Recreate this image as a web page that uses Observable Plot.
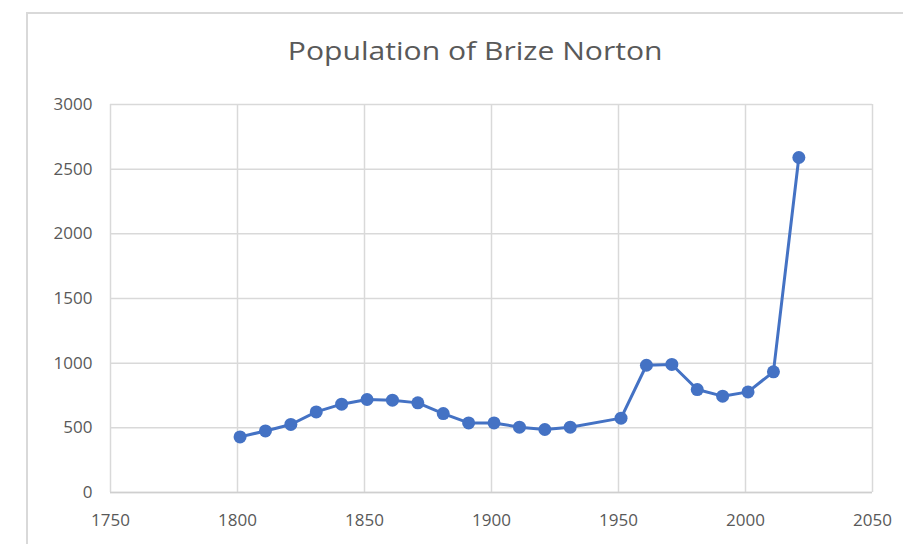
<!DOCTYPE html>
<html>
<head>
<meta charset="utf-8">
<script src="https://cdn.jsdelivr.net/npm/d3@7"></script>
<script src="https://cdn.jsdelivr.net/npm/@observablehq/plot@0.6"></script>
<style>
  html, body { margin: 0; padding: 0; background: #fff; }
  #wrap { position: relative; width: 903px; height: 544px; overflow: hidden; }
  #frame { position: absolute; left: 26px; top: 12px; width: 900px; height: 560px;
           border-left: 2px solid #d9d9d9; border-top: 2px solid #d9d9d9; box-sizing: border-box; }
  #title { position: absolute; left: 0; width: 950px; top: 33px; text-align: center;
           font-family: "Open Sans", sans-serif; font-size: 25.5px; color: #595959;
           transform: scaleX(1.18); transform-origin: 474px 0; }
  svg { position: absolute; left: 0; top: 0; }
</style>
</head>
<body>
<div id="wrap">
  <div id="frame"></div>
  <div id="title">Population of Brize Norton</div>
</div>
<script>
const years = [1801, 1811, 1821, 1831, 1841, 1851, 1861, 1871, 1881, 1891, 1901, 1911, 1921, 1931, 1951, 1961, 1971, 1981, 1991, 2001, 2011, 2021];
const population = [430, 476, 526, 623, 683, 719, 714, 693, 610, 538, 538, 505, 487, 505, 575, 984, 990, 796, 745, 778, 933, 2590];
const xTicks = [1750, 1800, 1850, 1900, 1950, 2000, 2050];
const yTicks = [0, 500, 1000, 1500, 2000, 2500, 3000];

const data = years.map((y, i) => ({year: y, pop: population[i]}));
const blue = "#4472C4";
const grid = "#d9d9d9";

const chart = Plot.plot({
  width: 903,
  height: 544,
  marginLeft: 110,
  marginRight: 31,
  marginTop: 104,
  marginBottom: 52,
  style: {fontFamily: "'Open Sans', sans-serif", fontSize: "17px", color: "#595959", background: "transparent", overflow: "visible"},
  x: {domain: [1750, 2050], ticks: xTicks, tickFormat: d => String(d), label: null},
  y: {domain: [0, 3000], ticks: yTicks, tickFormat: d => String(d), label: null},
  marks: [
    Plot.gridX(xTicks, {stroke: grid, strokeOpacity: 1, strokeWidth: 1.5}),
    Plot.gridY(yTicks, {stroke: grid, strokeOpacity: 1, strokeWidth: 1.5}),
    Plot.ruleY([0], {stroke: "#cfcfcf", strokeWidth: 1.5}),
    Plot.axisX(xTicks, {tickSize: 0, tickPadding: 21, fill: "#595959", fontSize: 17, tickFormat: d => String(d), label: null}),
    Plot.axisY(yTicks, {tickSize: 0, tickPadding: 18, fill: "#595959", fontSize: 17, tickFormat: d => String(d), label: null}),
    Plot.line(data, {x: "year", y: "pop", stroke: blue, strokeWidth: 3}),
    Plot.dot(data, {x: "year", y: "pop", r: 6.5, fill: blue, stroke: "none"})
  ]
});
document.getElementById("wrap").insertBefore(chart, document.getElementById("frame"));
</script>
</body>
</html>
